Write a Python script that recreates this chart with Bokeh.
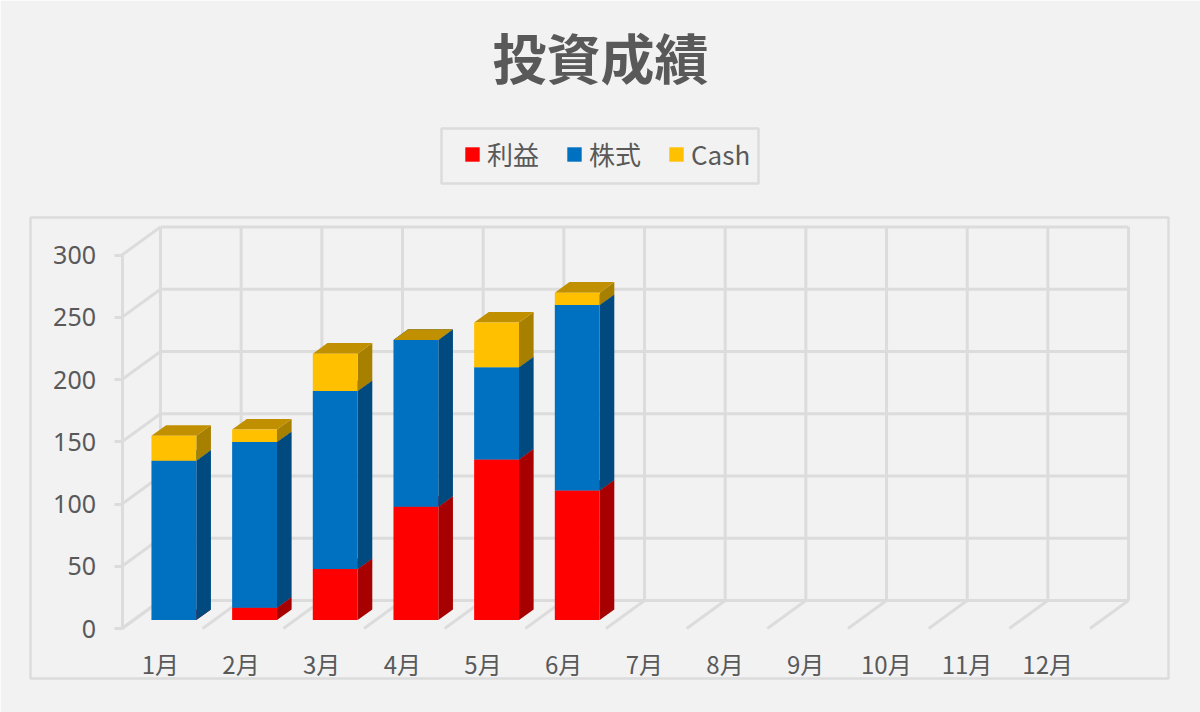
from bokeh.plotting import figure
from bokeh.embed import file_html
from bokeh.resources import INLINE
from bokeh.models import (Range1d, FixedTicker, Legend, LegendItem, Title, BoxAnnotation)

months = ["1月", "2月", "3月", "4月", "5月", "6月", "7月", "8月", "9月", "10月", "11月", "12月"]
series_names = ["利益", "株式", "Cash"]
profit = [0, 10, 41, 91, 129, 104]
stock = [128, 133, 143, 134, 74, 149]
cash = [20, 10, 30, 0, 36, 10]
y_ticks = [0, 50, 100, 150, 200, 250, 300]

BG = "#f2f2f2"
GRID = "#dcdcdc"
TEXT = "#595959"
FONT = "Noto Sans CJK JP"
front_colors = ["#ff0000", "#0070c0", "#ffc000"]
side_colors = ["#a60000", "#004a80", "#a88000"]
top_colors = ["#c00000", "#00568f", "#c09000"]

PX_X = 80.67
PX_Y = 1.245
DEPTH_X = 38.5 / PX_X
DEPTH_Y = 28 / PX_Y
D0, D1 = 0.30, 0.68
BAR = 0.556


def proj(cat, val, d):
    return cat + d * DEPTH_X, val + d * DEPTH_Y


def poly(points):
    pts = [proj(*q) for q in points]
    return [q[0] for q in pts], [q[1] for q in pts]


# frame: x 20..1180, y 95..690; origin of the front plane at (121.5, 628)
p = figure(width=1200, height=712, output_backend="svg", toolbar_location=None,
           x_range=Range1d(-(121.5 - 20) / PX_X, (1180 - 121.5) / PX_X),
           y_range=Range1d(-(690 - 628) / PX_Y, (628 - 95) / PX_Y),
           min_border_left=20, min_border_right=20, min_border_top=95, min_border_bottom=22,
           background_fill_color=BG, border_fill_color=BG,
           outline_line_color=BG, outline_line_width=2)
p.grid.visible = False

# outer chart border and legend frame
for l, r, t, b in [(30, 1168, 217, 678), (441, 758, 128, 183)]:
    p.add_layout(BoxAnnotation(left=l, right=r, top=t, bottom=b,
                               left_units="canvas", right_units="canvas",
                               top_units="canvas", bottom_units="canvas",
                               fill_alpha=0, line_color=GRID, line_alpha=1, line_width=2.5,
                               level="underlay"))

# 3D walls
gx, gy = [], []
n = len(months)
for i in range(n + 1):
    a, b = proj(i, y_ticks[0], 1), proj(i, y_ticks[-1], 1)
    gx.append([a[0], b[0]]); gy.append([a[1], b[1]])
    a, b = proj(i, 0, 0), proj(i, 0, 1)
    gx.append([a[0], b[0]]); gy.append([a[1], b[1]])
for v in y_ticks:
    a, b = proj(0, v, 1), proj(n, v, 1)
    gx.append([a[0], b[0]]); gy.append([a[1], b[1]])
    a, b = proj(0, v, 0), proj(0, v, 1)
    gx.append([a[0], b[0]]); gy.append([a[1], b[1]])
p.multi_line(gx, gy, line_color=GRID, line_width=3)

# stacked 3D bars
legend_items = []
base = [0] * len(profit)
for s, vals in enumerate([profit, stock, cash]):
    fx, fy, sx, sy, tx, ty = [], [], [], [], [], []
    for i, v in enumerate(vals):
        l = i + 0.5 - BAR / 2
        r = i + 0.5 + BAR / 2
        b0, b1 = base[i], base[i] + v
        xs, ys = poly([(l, b0, D0), (r, b0, D0), (r, b1, D0), (l, b1, D0)])
        fx.append(xs); fy.append(ys)
        xs, ys = poly([(r, b0, D0), (r, b0, D1), (r, b1, D1), (r, b1, D0)])
        sx.append(xs); sy.append(ys)
        xs, ys = poly([(l, b1, D0), (r, b1, D0), (r, b1, D1), (l, b1, D1)])
        tx.append(xs); ty.append(ys)
        base[i] = b1
    p.patches(sx, sy, fill_color=side_colors[s], line_color=None)
    p.patches(tx, ty, fill_color=top_colors[s], line_color=None)
    rf = p.patches(fx, fy, fill_color=front_colors[s], line_color=None)
    legend_items.append(LegendItem(label=series_names[s], renderers=[rf]))

# axes
ya = p.yaxis[0]
ya.fixed_location = 0
ya.ticker = FixedTicker(ticks=y_ticks)
ya.bounds = (y_ticks[0], y_ticks[-1])
ya.axis_line_color = GRID
ya.axis_line_width = 3
ya.major_tick_line_color = GRID
ya.major_tick_line_width = 3
ya.major_tick_out = 8
ya.major_tick_in = 0
ya.minor_tick_line_color = None
ya.major_label_text_font = "Noto Sans"
ya.major_label_text_font_size = "25px"
ya.major_label_text_color = TEXT
ya.major_label_standoff = 18

xa = p.xaxis[0]
xa.fixed_location = 0
xa.ticker = FixedTicker(ticks=[i + 0.475 for i in range(n)])
xa.major_label_overrides = {i + 0.475: m for i, m in enumerate(months)}
xa.axis_line_color = None
xa.major_tick_line_color = None
xa.minor_tick_line_color = None
xa.major_label_text_font = FONT
xa.major_label_text_font_size = "24px"
xa.major_label_text_color = TEXT
xa.major_label_standoff = 11

# legend
legend = Legend(items=legend_items, orientation="horizontal", location=(443, 518), margin=0,
                glyph_width=18, glyph_height=18, label_standoff=6, spacing=26, padding=0,
                label_text_font=FONT, label_text_font_size="26px", label_text_color=TEXT,
                border_line_color=None, background_fill_alpha=0)
p.add_layout(legend)

p.add_layout(Title(text="投資成績", align="center", standoff=0,
                   text_font=FONT, text_font_size="54px", text_font_style="bold",
                   text_color=TEXT), "above")

open("out.html", "w").write(file_html(p, INLINE))
